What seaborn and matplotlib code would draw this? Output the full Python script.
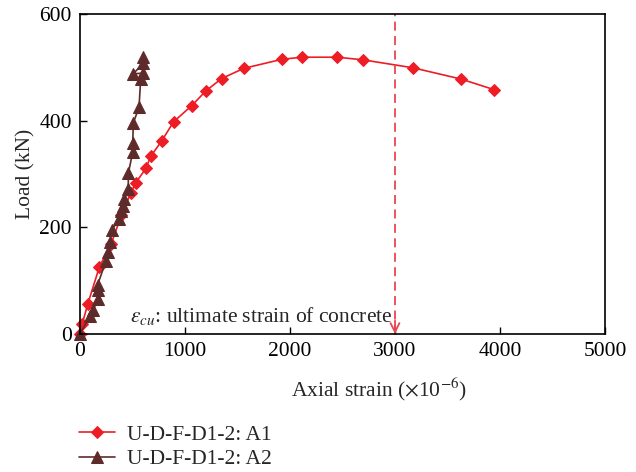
import matplotlib
matplotlib.use("Agg")
import matplotlib.pyplot as plt
import seaborn as sns
import pandas as pd

# ---- data ----
a1_strain = [0, 20, 75, 185, 295, 395, 483, 533, 629, 673, 778, 892, 1063, 1200,
             1349, 1559, 1921, 2117, 2451, 2698, 3175, 3629, 3946]
a1_load = [0, 18, 57, 126, 168, 223, 264, 284, 311, 333, 362, 398, 428, 456,
           479, 498, 515, 519, 519, 514, 499, 478, 458]

a2_strain = [0, 95, 127, 168, 168, 168, 245, 270, 286, 305, 370, 390, 406, 422,
             460, 460, 502, 502, 508, 562, 578, 603, 508, 603, 597]
a2_load = [0, 34, 45, 65, 82, 92, 136, 154, 173, 195, 215, 230, 240, 253,
           271, 301, 341, 358, 396, 425, 478, 489, 488, 508, 520]

labels = ["U-D-F-D1-2: A1", "U-D-F-D1-2: A2"]
eps_cu = 3000
note = r"$\varepsilon_{cu}$: ultimate strain of concrete"
x_ticks = [0, 1000, 2000, 3000, 4000, 5000]
y_ticks = [0, 200, 400, 600]

sns.set_style("white")
plt.rcParams["font.family"] = ["Liberation Serif", "DejaVu Serif"]
plt.rcParams["mathtext.fontset"] = "stix"

red = "#ee1c25"
brown = "#5e2b2b"
fs = 15.5

fig = plt.figure(figsize=(6.36, 4.72), dpi=100)
ax = fig.add_axes([80 / 636, 1 - 334 / 472, 525 / 636, 320 / 472])

df1 = pd.DataFrame({"strain": a1_strain, "load": a1_load})
df2 = pd.DataFrame({"strain": a2_strain, "load": a2_load})

sns.lineplot(data=df1, x="strain", y="load", ax=ax, sort=False, estimator=None,
             color=red, marker="D", markersize=6.5, markeredgecolor=red, lw=1.2,
             label=labels[0])
sns.lineplot(data=df2, x="strain", y="load", ax=ax, sort=False, estimator=None,
             color=brown, marker="^", markersize=8, markeredgecolor=brown, lw=1.2,
             label=labels[1])

# ultimate strain line
ax.plot([eps_cu, eps_cu], [0, y_ticks[-1]], ls=(0, (5, 3)), color="#e8474f", lw=1.3)
ax.annotate("", xy=(eps_cu, 0), xytext=(eps_cu, 25),
            arrowprops=dict(arrowstyle="->", color="#e8474f", lw=1.3,
                            mutation_scale=16, shrinkA=0, shrinkB=0))
ax.text(eps_cu - 20, 14, note, ha="right", va="bottom", fontsize=fs)

ax.set_xlim(x_ticks[0], x_ticks[-1])
ax.set_ylim(y_ticks[0], y_ticks[-1])
ax.set_xticks(x_ticks)
ax.set_yticks(y_ticks)
ax.tick_params(direction="in", length=5, width=1, labelsize=fs, pad=6,
               bottom=True, left=True, colors="black")
for s in ax.spines.values():
    s.set_visible(True)
    s.set_color("black")
    s.set_linewidth(1.2)

ax.set_xlabel(r"Axial strain ($\times$10$^{-6}$)", fontsize=fs)
ax.xaxis.set_label_coords(0.57, -0.13)
ax.set_ylabel("Load (kN)", fontsize=fs)
ax.yaxis.set_label_coords(-0.085, 0.5)

h, l = ax.get_legend_handles_labels()
ax.get_legend().remove()
fig.legend(h, l, loc="upper left", bbox_to_anchor=(70 / 636, 1 - 416 / 472),
           frameon=False, fontsize=fs, handlelength=1.7, handletextpad=0.55,
           labelspacing=0.2, borderaxespad=0)

for line in ax.lines:
    line.set_clip_on(False)

fig.savefig("out.png", dpi=100)
